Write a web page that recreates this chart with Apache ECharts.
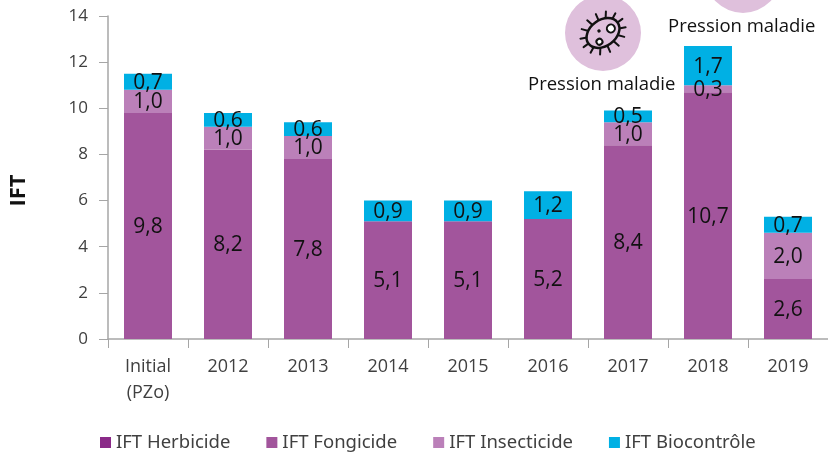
<!DOCTYPE html>
<html>
<head>
<meta charset="utf-8">
<style>html,body{margin:0;padding:0;background:#fff}#chart{width:828px;height:452px}</style>
<script src="https://cdn.jsdelivr.net/npm/echarts@6/dist/echarts.min.js"></script>
</head>
<body>
<div id="chart"></div>
<script>
var categories = ['Initial\n(PZo)','2012','2013','2014','2015','2016','2017','2018','2019'];
var herbicide = [null,null,null,null,null,null,null,null,null];
var fongicide = [9.8,8.2,7.8,5.1,5.1,5.2,8.4,10.7,2.6];
var insecticide = [1.0,1.0,1.0,null,null,null,1.0,0.3,2.0];
var biocontrole = [0.7,0.6,0.6,0.9,0.9,1.2,0.5,1.7,0.7];

var chart = echarts.init(document.getElementById('chart'));

function virgule(p){
    return p.value == null ? '' : p.value.toFixed(1).replace('.',',');
}

function barSerie(name,data){
    return {
        name:name,
        type:'bar',
        stack:'ift',
        barWidth:'60%',
        data:data,
        label:{
            show:true,
            position:'inside',
            offset:[0,1],
            formatter:virgule,
            fontFamily:'Open Sans',
            fontSize:21,
            color:'#111'
        }
    };
}

// petite bactérie, décor au dessus de 2017
var spikes = [];
for(var i=0;i<14;i++){
    var a = i*Math.PI*2/14, c = Math.cos(a), s = Math.sin(a);
    spikes.push({
        type:'line',
        shape:{x1:c*16,y1:s*12,x2:c*24,y2:s*20},
        style:{stroke:'#111',lineWidth:2,lineCap:'round'}
    });
}
var bacterie = {
    type:'group',
    x:603,
    y:33,
    rotation:Math.PI/5,
    children:spikes.concat([
        {type:'ellipse',shape:{cx:0,cy:0,rx:18,ry:13},style:{fill:'#dfc0dc',stroke:'#111',lineWidth:2.5}},
        {type:'circle',shape:{cx:9,cy:1,r:4},style:{fill:'#fff',stroke:'#111',lineWidth:2}},
        {type:'circle',shape:{cx:-8,cy:5,r:3},style:{fill:'#fff',stroke:'#111',lineWidth:2}},
        {type:'circle',shape:{cx:-2,cy:-4,r:1.7},style:{fill:'#111'}}
    ])
};

var option = {
    animation:false,
    color:['#8a2a88','#a2559c','#bb80b9','#00b0e4'],
    legend:{
        left:95,
        top:428,
        icon:'rect',
        itemWidth:11,
        itemHeight:11,
        itemGap:36,
        textStyle:{fontFamily:'Noto Sans',fontSize:18.5,color:'#404040'},
        data:['IFT Herbicide','IFT Fongicide','IFT Insecticide','IFT Biocontrôle']
    },
    grid:{left:108,right:0,top:16,height:323},
    xAxis:{
        type:'category',
        data:categories,
        axisLine:{lineStyle:{color:'#a6a6a6',width:1.5}},
        axisTick:{show:true,alignWithLabel:false,length:9,lineStyle:{color:'#a6a6a6'}},
        axisLabel:{fontFamily:'Open Sans',fontSize:18,color:'#404040',margin:15,lineHeight:26,interval:0}
    },
    yAxis:{
        type:'value',
        min:0,
        max:14,
        interval:2,
        name:'IFT',
        nameLocation:'middle',
        nameGap:78,
        nameTextStyle:{fontFamily:'Open Sans',fontSize:22,fontWeight:'bold',color:'#111',padding:[0,26,0,0]},
        splitLine:{show:false},
        axisLine:{show:true,lineStyle:{color:'#a6a6a6',width:1.5}},
        axisTick:{show:true,length:9,lineStyle:{color:'#a6a6a6'}},
        axisLabel:{fontFamily:'Open Sans',fontSize:17,color:'#404040',margin:20}
    },
    series:[
        barSerie('IFT Herbicide',herbicide),
        barSerie('IFT Fongicide',fongicide),
        barSerie('IFT Insecticide',insecticide),
        barSerie('IFT Biocontrôle',biocontrole)
    ],
    graphic:[
        {type:'circle',shape:{cx:603,cy:33,r:38},style:{fill:'#dfc0dc'}},
        {type:'circle',shape:{cx:743,cy:-25,r:38},style:{fill:'#dfc0dc'}},
        bacterie,
        {type:'text',x:528,y:75,style:{text:'Pression maladie',fontFamily:'Open Sans',fontSize:18.5,fill:'#111'}},
        {type:'text',x:668,y:17,style:{text:'Pression maladie',fontFamily:'Open Sans',fontSize:18.5,fill:'#111'}}
    ]
};

chart.setOption(option);
</script>
</body>
</html>
